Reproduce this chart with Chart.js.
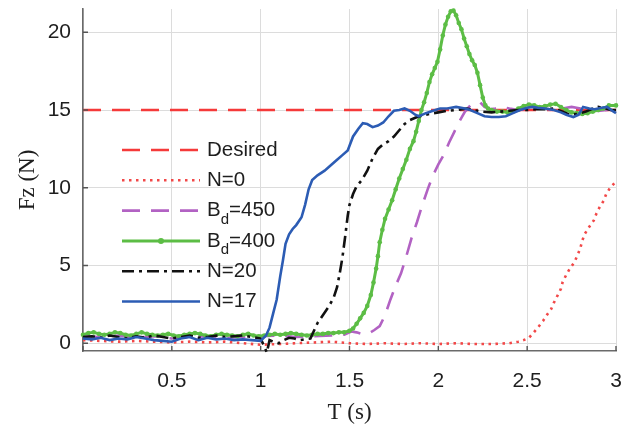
<!DOCTYPE html>
<html>
<head>
<meta charset="utf-8">
<script src="https://cdn.jsdelivr.net/npm/chart.js@4.4.1/dist/chart.umd.min.js"></script>
<style>
html,body{margin:0;padding:0;background:#fff;}
canvas{display:block;}
</style>
</head>
<body>
<canvas id="c" width="632" height="432"></canvas>
<script>
// ---------- data ----------
const legendLabels = ['Desired', 'N=0', 'B_d=450', 'B_d=400', 'N=20', 'N=17'];
const xTickStep = 0.5;
const yTickStep = 5;

const tDesired = [0, 3];
const fDesired = [15, 15];

const tN0 = [0,0.1,0.2,0.3,0.4,0.5,0.6,0.7,0.8,0.9,1.0,1.1,1.2,1.3,1.4,1.5,1.6,1.7,1.8,1.9,2.0,2.1,2.2,2.3,2.4,2.45,2.48,2.51,2.53,2.56,2.59,2.61,2.635,2.65,2.67,2.69,2.70,2.72,2.74,2.765,2.785,2.80,2.81,2.825,2.85,2.875,2.89,2.91,2.93,2.945,2.97,3.0];
const fN0 = [0.2,0.15,0.1,0.15,0.1,0.05,0.1,0.05,0.1,0.0,-0.1,-0.05,0.0,0.05,0.1,0.0,-0.05,0.0,-0.05,0.0,-0.05,0.0,-0.05,-0.05,0.0,0.1,0.2,0.35,0.6,1.0,1.45,1.8,2.2,2.6,3.05,3.5,3.95,4.4,4.8,5.2,5.7,6.15,6.6,7.05,7.5,7.9,8.35,8.8,9.15,9.6,10.05,10.4];

const tBd450 = [0,0.1,0.2,0.3,0.4,0.5,0.6,0.7,0.8,0.9,1.0,1.1,1.2,1.3,1.4,1.47,1.51,1.54,1.57,1.61,1.64,1.67,1.70,1.73,1.76,1.79,1.82,1.85,1.88,1.91,1.94,1.97,2.00,2.03,2.06,2.09,2.12,2.15,2.18,2.21,2.235,2.26,2.29,2.32,2.36,2.40,2.45,2.50,2.55,2.60,2.65,2.70,2.75,2.80,2.85,2.90,2.95,3.0];
const fBd450 = [0.45,0.4,0.5,0.35,0.45,0.3,0.4,0.45,0.35,0.4,0.45,0.5,0.4,0.45,0.5,0.55,0.75,0.7,0.6,0.65,0.85,1.1,1.8,2.8,3.7,4.5,5.6,6.8,7.8,8.9,9.9,10.8,11.5,12.1,12.9,13.6,14.3,14.9,15.3,15.45,15.5,15.2,15.05,15.1,15.2,15.1,15.0,15.1,15.2,15.1,15.0,15.1,15.2,15.1,15.0,14.95,15.0,15.1];

const tBd400 = [0,0.03,0.06,0.09,0.12,0.15,0.18,0.21,0.24,0.27,0.30,0.33,0.36,0.39,0.42,0.45,0.48,0.51,0.54,0.57,0.60,0.63,0.66,0.69,0.72,0.75,0.78,0.81,0.84,0.87,0.90,0.93,0.96,0.99,1.02,1.05,1.08,1.11,1.14,1.17,1.20,1.23,1.26,1.29,1.32,1.35,1.38,1.41,1.44,1.47,1.50,1.52,1.54,1.56,1.58,1.60,1.62,1.635,1.65,1.66,1.67,1.685,1.70,1.72,1.74,1.76,1.78,1.80,1.82,1.84,1.86,1.875,1.89,1.905,1.92,1.935,1.95,1.965,1.98,1.995,2.01,2.025,2.04,2.055,2.07,2.085,2.10,2.115,2.13,2.145,2.16,2.175,2.19,2.205,2.22,2.235,2.25,2.265,2.28,2.30,2.33,2.36,2.39,2.42,2.45,2.48,2.51,2.54,2.57,2.60,2.63,2.66,2.69,2.72,2.75,2.78,2.81,2.84,2.87,2.90,2.93,2.96,3.0];
const fBd400 = [0.55,0.65,0.7,0.6,0.55,0.6,0.7,0.65,0.55,0.5,0.6,0.7,0.6,0.55,0.5,0.55,0.6,0.5,0.45,0.55,0.6,0.65,0.6,0.5,0.45,0.55,0.6,0.55,0.5,0.45,0.55,0.6,0.5,0.45,0.5,0.55,0.6,0.55,0.6,0.65,0.6,0.55,0.5,0.55,0.6,0.6,0.65,0.65,0.7,0.7,0.8,0.95,1.25,1.6,1.95,2.4,3.1,3.9,4.8,5.6,6.5,7.3,8.0,8.6,9.2,9.9,10.6,11.2,11.8,12.5,13.0,13.6,14.3,15.0,15.5,16.1,16.8,17.3,17.7,18.1,18.9,19.8,20.5,21.0,21.35,21.4,21.1,20.6,20.2,19.6,19.1,18.6,18.2,17.9,17.4,16.6,15.8,15.3,15.1,15.0,14.9,14.9,14.85,14.9,15.1,15.25,15.35,15.3,15.2,15.25,15.35,15.4,15.2,15.0,14.85,14.8,14.75,14.8,14.9,15.0,15.1,15.3,15.3];

const tN20 = [0,0.05,0.1,0.15,0.2,0.25,0.3,0.35,0.4,0.45,0.5,0.55,0.6,0.65,0.7,0.75,0.8,0.85,0.9,0.95,1.0,1.02,1.035,1.05,1.07,1.1,1.13,1.16,1.19,1.22,1.25,1.28,1.30,1.32,1.35,1.38,1.41,1.43,1.445,1.46,1.475,1.49,1.50,1.52,1.54,1.57,1.60,1.63,1.66,1.69,1.72,1.75,1.78,1.81,1.84,1.87,1.91,1.95,2.0,2.05,2.1,2.16,2.2,2.24,2.3,2.35,2.4,2.45,2.5,2.55,2.6,2.65,2.7,2.74,2.78,2.83,2.87,2.9,2.94,2.97,3.0];
const fN20 = [0.4,0.45,0.35,0.5,0.4,0.3,0.45,0.35,0.5,0.4,0.3,0.4,0.5,0.35,0.4,0.5,0.4,0.45,0.5,0.4,0.3,-0.2,-0.6,0.2,0.1,0.0,0.2,0.35,0.3,0.2,0.25,0.3,0.8,1.3,1.8,2.3,2.9,3.6,4.5,5.5,6.8,8.2,8.9,9.6,10.1,10.5,11.1,11.9,12.5,12.8,13.0,13.3,13.7,14.1,14.35,14.5,14.65,14.75,14.85,14.95,15.0,15.1,15.0,14.9,14.85,14.9,14.95,15.0,15.0,15.05,15.05,15.1,14.9,14.7,14.75,14.9,15.1,15.2,15.1,15.0,15.0];

const tN17 = [0,0.05,0.1,0.15,0.2,0.25,0.3,0.35,0.4,0.45,0.5,0.55,0.6,0.65,0.7,0.75,0.8,0.85,0.9,0.95,1.0,1.03,1.05,1.07,1.09,1.11,1.125,1.14,1.16,1.18,1.20,1.23,1.25,1.27,1.29,1.32,1.36,1.39,1.43,1.46,1.49,1.52,1.55,1.575,1.60,1.63,1.66,1.69,1.72,1.75,1.78,1.81,1.84,1.87,1.89,1.93,1.97,2.01,2.05,2.10,2.15,2.18,2.22,2.26,2.30,2.34,2.38,2.42,2.46,2.50,2.53,2.56,2.60,2.65,2.69,2.72,2.76,2.79,2.815,2.85,2.88,2.92,2.95,2.98,3.0];
const fN17 = [0.3,0.25,0.35,0.2,0.3,0.25,0.4,0.3,0.2,0.15,0.1,0.3,0.4,0.2,0.35,0.25,0.3,0.2,0.25,0.2,0.15,0.5,1.0,1.9,2.8,4.3,5.3,6.4,7.0,7.35,7.6,8.1,8.9,9.9,10.5,10.8,11.1,11.4,11.8,12.1,12.4,13.3,13.8,14.15,14.1,13.9,14.0,14.2,14.6,14.95,15.0,15.1,14.95,14.7,14.6,14.8,14.95,15.1,15.1,15.2,15.1,15.0,14.8,14.6,14.55,14.55,14.6,14.8,15.0,15.15,15.2,15.15,15.1,15.0,14.85,14.7,14.55,14.7,15.2,15.1,15.05,15.15,15.2,14.95,14.8];

// ---------- helpers ----------
const pts = (t, f) => t.map((x, i) => ({ x: x, y: f[i] }));
const FONT_SANS = 'Liberation Sans, Arial, sans-serif';
const FONT_SERIF = 'Liberation Serif, Times New Roman, serif';
const TEXT = '#1e1e1e';

const datasets = [
  { label: legendLabels[0], data: pts(tDesired, fDesired), borderColor: '#f53a3a', borderWidth: 2.6, borderDash: [18, 11], pointRadius: 0, order: 6 },
  { label: legendLabels[1], data: pts(tN0, fN0), borderColor: '#f24848', borderWidth: 2.6, borderDash: [2.5, 4.5], pointRadius: 0, order: 5 },
  { label: legendLabels[2], data: pts(tBd450, fBd450), borderColor: '#b262c3', borderWidth: 2.6, borderDash: [18, 11], pointRadius: 0, order: 4 },
  { label: legendLabels[3], data: pts(tBd400, fBd400), borderColor: '#5cbd45', backgroundColor: '#5cbd45', borderWidth: 3, pointRadius: 2.3, pointBorderWidth: 0, pointBackgroundColor: '#5cbd45', order: 3 },
  { label: legendLabels[4], data: pts(tN20, fN20), borderColor: '#111111', borderWidth: 2.6, borderDash: [12, 5, 3, 5], pointRadius: 0, order: 2 },
  { label: legendLabels[5], data: pts(tN17, fN17), borderColor: '#2c5cb4', borderWidth: 2.6, pointRadius: 0, order: 1 }
];
datasets.forEach(d => { d.fill = false; d.tension = 0; d.clip = 10; });

// inward tick marks (MATLAB style)
const inwardTicks = {
  id: 'inwardTicks',
  afterDraw(chart) {
    const { ctx, chartArea: a, scales: { x, y } } = chart;
    ctx.save();
    ctx.strokeStyle = '#555';
    ctx.lineWidth = 1.4;
    ctx.beginPath();
    x.ticks.forEach(t => { const p = x.getPixelForValue(t.value); ctx.moveTo(p, a.bottom); ctx.lineTo(p, a.bottom - 5); });
    y.ticks.forEach(t => { const p = y.getPixelForValue(t.value); ctx.moveTo(a.left, p); ctx.lineTo(a.left + 5, p); });
    ctx.stroke();
    ctx.restore();
  }
};

// legend with subscript support
const subLegend = {
  id: 'subLegend',
  afterDraw(chart) {
    const ctx = chart.ctx;
    const x0 = 122, x1 = 200, tx = 207, y0 = 150, dy = 30.3;
    ctx.save();
    chart.data.datasets.forEach((ds, i) => {
      const y = y0 + i * dy;
      ctx.strokeStyle = ds.borderColor;
      ctx.lineWidth = ds.borderWidth;
      ctx.setLineDash(ds.borderDash || []);
      ctx.beginPath();
      ctx.moveTo(x0, y); ctx.lineTo(x1, y);
      ctx.stroke();
      ctx.setLineDash([]);
      if (ds.pointRadius > 0) {
        ctx.fillStyle = ds.pointBackgroundColor;
        ctx.beginPath(); ctx.arc((x0 + x1) / 2, y, 3, 0, Math.PI * 2); ctx.fill();
      }
      const lab = ds.label;
      ctx.fillStyle = TEXT;
      ctx.textBaseline = 'middle';
      ctx.textAlign = 'left';
      let cx = tx;
      const m = lab.match(/^(.*)_(.)(.*)$/);
      const parts = m ? [[m[1], 0], [m[2], 1], [m[3], 0]] : [[lab, 0]];
      parts.forEach(([s, sub]) => {
        ctx.font = (sub ? '15px ' : '20.5px ') + FONT_SANS;
        ctx.fillText(s, cx, y + (sub ? 9 : 0));
        cx += ctx.measureText(s).width;
      });
    });
    ctx.restore();
  }
};

new Chart(document.getElementById('c'), {
  type: 'line',
  data: { datasets: datasets },
  plugins: [inwardTicks, subLegend],
  options: {
    responsive: false,
    animation: false,
    layout: { padding: { left: 0, right: 16, top: 9, bottom: 0 } },
    plugins: { legend: { display: false }, tooltip: { enabled: false } },
    scales: {
      x: {
        type: 'linear', min: 0, max: 3,
        afterFit: s => { s.height = 81; s.paddingLeft = 0; s.paddingRight = 0; },
        ticks: { stepSize: xTickStep, includeBounds: false, autoSkip: false, maxRotation: 0,
                 padding: 18, color: TEXT, font: { family: FONT_SANS, size: 21 },
                 callback: v => (v === 0 ? '' : String(v)) },
        grid: { color: '#dcdcdc', lineWidth: 1, drawTicks: false },
        border: { color: '#6a6a6a', width: 1.6 },
        title: { display: true, text: 'T (s)', color: TEXT, font: { family: FONT_SERIF, size: 23 }, padding: { top: 0, bottom: 5 } }
      },
      y: {
        type: 'linear', min: -0.5, max: 21.5,
        afterFit: s => { s.width = 83; s.paddingTop = 0; s.paddingBottom = 0; },
        ticks: { stepSize: yTickStep, includeBounds: false, padding: 12, color: TEXT, font: { family: FONT_SANS, size: 21 } },
        grid: { color: '#dcdcdc', lineWidth: 1, drawTicks: false },
        border: { color: '#6a6a6a', width: 1.6 },
        title: { display: true, text: 'Fz (N)', color: TEXT, font: { family: FONT_SERIF, size: 23 }, padding: { top: 14, bottom: 14 } }
      }
    }
  }
});
</script>
</body>
</html>
